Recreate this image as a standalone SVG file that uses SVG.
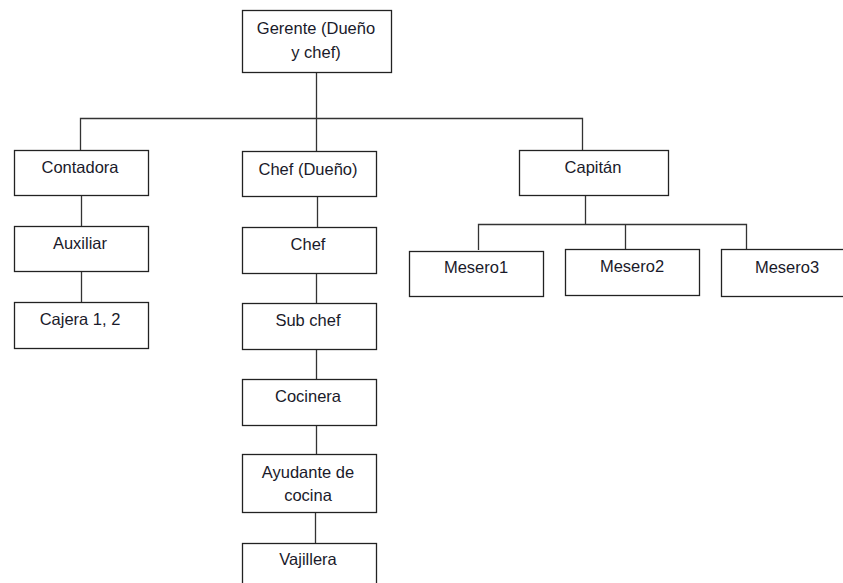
<svg xmlns="http://www.w3.org/2000/svg" width="843" height="583" viewBox="0 0 843 583">
<style>
.box{fill:#fff;stroke:#222;stroke-width:1.3}
.ln{fill:none;stroke:#333;stroke-width:1.3}
text{font-family:"Liberation Sans","Open Sans",Arial,sans-serif;font-size:16.5px;fill:#1a1a2a;text-anchor:middle}
</style>
<rect width="843" height="583" fill="#fff"/>
<g id="connectors">
<path class="ln" d="M316.5 72V151M80.5 195.5V118.5H582.5V150"/>
<path class="ln" d="M81.5 196V226M81.5 272V302"/>
<path class="ln" d="M317.5 196V227M316.5 273V303M316.5 349V379M316.5 425V454M315.5 512V543"/>
<path class="ln" d="M585.5 195V224.5M478.5 250V224.5H746.5V249M625.5 224.5V249"/>
</g>
<g id="gerente"><rect class="box" x="242.5" y="10.5" width="149" height="62"/><text x="316" y="34">Gerente (Dueño</text><text x="316" y="58">y chef)</text></g>
<g id="contadora"><rect class="box" x="14.5" y="150.5" width="134" height="45"/><text x="80" y="173">Contadora</text></g>
<g id="auxiliar"><rect class="box" x="14.5" y="226.5" width="134" height="45"/><text x="80" y="249">Auxiliar</text></g>
<g id="cajera"><rect class="box" x="14.5" y="302.5" width="134" height="46"/><text x="80" y="325">Cajera 1, 2</text></g>
<g id="chef-dueno"><rect class="box" x="242.5" y="151.5" width="134" height="45"/><text x="308" y="175">Chef (Dueño)</text></g>
<g id="chef"><rect class="box" x="242.5" y="227.5" width="134" height="46"/><text x="308" y="250">Chef</text></g>
<g id="subchef"><rect class="box" x="242.5" y="303.5" width="134" height="46"/><text x="308" y="326">Sub chef</text></g>
<g id="cocinera"><rect class="box" x="242.5" y="379.5" width="134" height="46"/><text x="308" y="402">Cocinera</text></g>
<g id="ayudante"><rect class="box" x="242.5" y="454.5" width="134" height="58"/><text x="308" y="478">Ayudante de</text><text x="308" y="501">cocina</text></g>
<g id="vajillera"><rect class="box" x="242.5" y="543.5" width="134" height="60"/><text x="308" y="565">Vajillera</text></g>
<g id="capitan"><rect class="box" x="519.5" y="150.5" width="149" height="45"/><text x="593" y="173">Capitán</text></g>
<g id="mesero1"><rect class="box" x="409.5" y="251.5" width="134" height="45"/><text x="476" y="273">Mesero1</text></g>
<g id="mesero2"><rect class="box" x="565.5" y="249.5" width="134" height="46"/><text x="632" y="272">Mesero2</text></g>
<g id="mesero3"><rect class="box" x="721.5" y="249.5" width="134" height="47"/><text x="787" y="273">Mesero3</text></g>
</svg>
